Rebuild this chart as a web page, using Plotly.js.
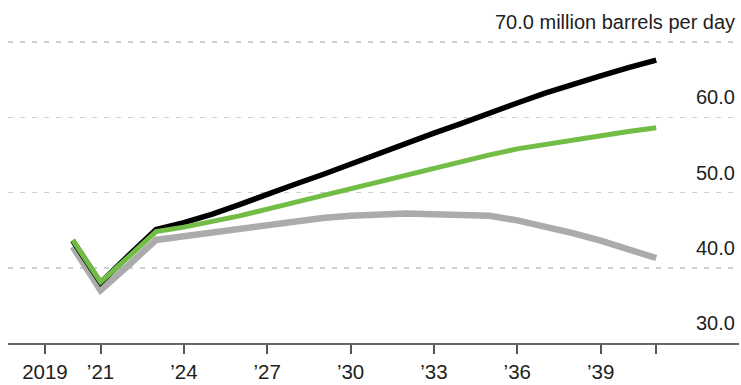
<!DOCTYPE html>
<html>
<head>
<meta charset="utf-8">
<script src="https://cdn.plot.ly/plotly-3.0.1.min.js"></script>
<style>html,body{margin:0;padding:0;background:#fff;}#chart{width:741px;height:385px;}</style>
</head>
<body>
<div id="chart"></div>
<script>
const years = [2020,2021,2022,2023,2024,2025,2026,2027,2028,2029,2030,2031,2032,2033,2034,2035,2036,2037,2038,2039,2040,2041];
const blackSeries = [43.6,38.0,41.6,45.1,46.0,47.1,48.4,49.8,51.1,52.4,53.8,55.2,56.5,57.9,59.2,60.6,61.9,63.2,64.4,65.5,66.6,67.6];
const greenSeries = [43.7,38.1,41.4,44.8,45.4,46.1,46.9,47.8,48.7,49.7,50.6,51.5,52.4,53.3,54.1,55.0,55.8,56.4,56.9,57.5,58.1,58.6];
const graySeries  = [42.8,37.0,40.3,43.7,44.2,44.7,45.3,45.8,46.2,46.6,46.9,47.1,47.2,47.1,47.1,46.9,46.3,45.5,44.6,43.6,42.5,41.3];

const xTickVals = [2019,2021,2024,2027,2030,2033,2036,2039,2041];
const xTickText = ['2019','\u201921','\u201924','\u201927','\u201930','\u201933','\u201936','\u201939',''];
const yTickVals = [30,40,50,60,70];
const yTickText = ['30.0','40.0','50.0','60.0','70.0 million barrels per day'];

const FONT = 'Liberation Sans, Arial, sans-serif';

const traces = [
  {x: years, y: graySeries, mode: 'lines', line: {color: '#ababab', width: 6.5}, hoverinfo: 'skip'},
  {x: years, y: blackSeries, mode: 'lines', line: {color: '#000000', width: 5.5}, hoverinfo: 'skip'},
  {x: years, y: greenSeries, mode: 'lines', line: {color: '#72bd45', width: 5}, hoverinfo: 'skip'}
];

const annotations = yTickVals.map((v, i) => ({
  x: 1, xref: 'paper', xanchor: 'right', xshift: -2,
  y: v, yref: 'y', yanchor: 'middle', yshift: 20,
  text: yTickText[i], showarrow: false,
  font: {family: FONT, size: 20, color: '#1e1e1e'}
}));

const layout = {
  width: 741, height: 385,
  margin: {l: 8, r: 2, t: 27, b: 42},
  paper_bgcolor: '#fff', plot_bgcolor: '#fff',
  showlegend: false,
  xaxis: {
    range: [2017.67, 2043.98],
    tickvals: xTickVals, ticktext: xTickText,
    ticks: 'outside', ticklen: 9, tickwidth: 2, tickcolor: '#555',
    showline: true, linecolor: '#666', linewidth: 2,
    showgrid: false, zeroline: false,
    tickfont: {family: FONT, size: 20.5, color: '#1e1e1e'}
  },
  yaxis: {
    range: [30, 72],
    tickvals: yTickVals,
    showticklabels: false,
    showgrid: true, gridcolor: '#cfcfcf', gridwidth: 1.5, griddash: '5px,7px',
    zeroline: false, showline: false, ticks: ''
  },
  annotations: annotations
};

Plotly.newPlot('chart', traces, layout, {displayModeBar: false, staticPlot: true});
</script>
</body>
</html>
